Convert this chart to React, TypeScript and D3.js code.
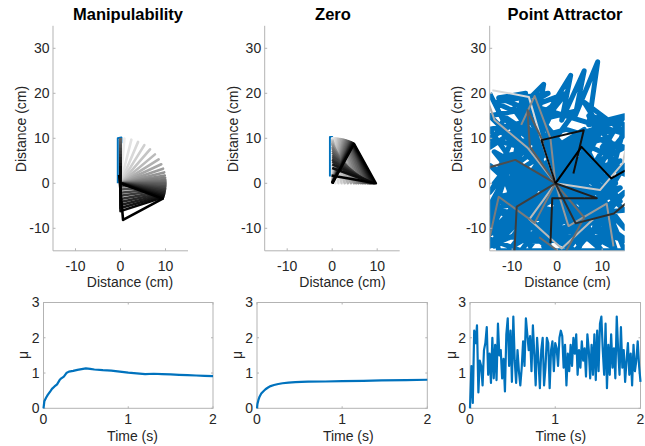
import React from 'react';
import * as d3 from 'd3';

const panelTitles = ['Manipulability', 'Zero', 'Point Attractor'];
const distTicks = [-10, 0, 10];
const heightTicks = [-10, 0, 10, 20, 30];
const muTicks = [0, 1, 2, 3];
const timeTicks = [0, 1, 2];

const LINK = 10; // cm, every link

// Manipulability: link headings (deg) of stored configurations, oldest first
const manipH1 = [85, 76, 67, 58, 49, 40, 32, 25, 19, 14, 10, 7, 4, 2, 0, -2, -4, -6, -8, -10, -12, -14, -16, -18, -20];
const manipH2 = [265, 256, 247, 238, 229, 220, 212, 205, 199, 194, 190, 187, 184, 182, 180, 182, 184, 186, 188, 190, 192, 194, 196, 198, 208];
const manipH3 = [90, 90, 90, 90, 90, 90, 90, 90, 90, 90, 90, 90, 90, 90, 90, 90, 90, 90, 90, 90, 90, 90, 90, 90, 95];
const manipStart: [number, number][] = [[-0.6, 0], [-0.6, 10], [0.2, 10.2], [0.2, 8.9]];

// Zero
const zeroH1 = [90, 88, 86, 84, 82, 80, 78, 76, 74.5, 73, 71.5, 70, 68.5, 67, 66, 65, 64, 63, 62, 61];
const zeroH2 = [-90, -88, -86, -84, -82, -80, -78, -76, -74.5, -73, -71.5, -70, -68.5, -67, -66, -65, -64, -63, -62, -61];
const zeroH3 = [90, 94, 98, 102, 106, 110, 115, 119, 122, 126, 129, 133, 137, 141, 144, 148, 151, 155, 160, 170];
const zeroStart: [number, number][] = [[-0.5, 1.5], [-0.5, 10.3], [0, 10.3], [0, 9.6]];

// Point attractor: joint positions of stored configurations, oldest first
const attractorArms: [number, number][][] = [
  [[-0.4, 0], [-3.5, 9.5], [-6.3, 19.2], [-14.4, 20.7]],
  [[-0.4, 0], [9.5, -1.5], [14.6, 4.5], [16, 12]],
  [[-0.4, 0], [-6.2, -8], [1, -14.5], [8, -8]],
  [[-0.4, 0], [-6.6, 7.9], [-13.9, 14], [-16, 20]],
  [[-0.4, 0], [2.5, -9.5], [11, -4.5], [12.5, -14]],
  [[-0.4, 0], [-1.5, 10], [-5, 19.4], [-8, 13]],
  [[-0.4, 0], [-5, -8.8], [-13, -3], [-15, -12]],
  [[-0.4, 0], [6, -7.6], [1.5, -16], [-4, -12]],
  [[-0.4, 0], [-6.1, 8.2], [-6.6, 16.3], [-3, 9]],
  [[-0.4, 0], [-9.3, 5.2], [-18.8, 2.5], [-25, 0]],
  [[-0.4, 0], [-9, -5.2], [-9.5, -15.2], [-9.5, -20]],
  [[-0.4, 0], [4.1, -8.9], [12.6, -6.7], [17, -3]],
  [[-0.4, 0], [8.8, -3.3], [-1.1, -3.3], [-1.5, -13.3]],
  [[-0.4, 0], [-3.5, 9.6], [5.9, 11.8], [3.6, 2.2]],
  [[-0.4, 0], [5.4, 8.1], [12, 1.1], [20.7, 6]],
];

// Point attractor: end-effector path
const attractorPath: [number, number][] = [
  [-15, 20], [-12, 14], [-15, 8], [-9, 12], [-13, 3], [-6, 9], [-15, -2], [-10, 6], [-15, -9], [-7, 2],
  [-14, -14], [-4, -4], [-16, -12], [-8, -15], [-3, -8], [-13, -6], [-1, -15], [-11, 0], [2, -12], [-15, 12],
  [-5, 14], [-14, 18], [-2, 20], [-9, 16], [-3, 22], [-5, 11], [3, 24], [1, 14], [6, 25], [4, 15],
  [9, 27], [7, 13], [15, 15], [10, 8], [15, 2], [8, 5], [14, -4], [5, 0], [15, -10], [9, -2],
  [13, -15], [6, -6], [16, -13], [3, -9], [10, -15], [1, -4], [8, -11], [12, 6], [3, 10], [14, 12],
  [6, 18], [11, 10], [-1, 7], [9, 3], [-3, 1], [12, -7], [0, -12], [4, 6], [-8, -10], [-4, 5],
  [-12, -12], [-6, -2], [-15, 4], [-1, -9], [-10, -14], [2, 2], [-7, 13], [5, -14], [-2, -1], [15, 8],
  [2, 12], [-9, 9], [-15, 15], [-4, 17], [-11, 10], [0, 18], [-6, 6], [7, 9], [-2, 3], [13, 0],
  [4, -3], [11, -12], [-5, -12], [7, -8], [-13, -3], [1, 0], [-11, -8], [5, 4], [-3, -14], [14, -1],
  [-8, -5], [10, 14], [-14, -10], [8, -5], [-2, 10], [12, 3], [-10, 2], [6, 12], [-6, -8], [15, -6],
  [0, 8], [-15, -14], [3, -6], [-12, 6], [9, 10], [-5, -6], [14, 5], [-9, -2], [4, 16], [-13, 12],
  [10, -9], [-1, 4], [13, -12], [-7, -13], [6, 2], [-14, 0], [2, 20], [-6, 17], [11, -3], [-3, -11],
  [15, 11], [-8, 18], [8, -13], [-12, 15], [3, 5], [-16, -6], [7, -1], [-4, 12], [12, -10], [-10, -12],
  [5, 9], [15, -15], [-13, -15], [-15, -5], [-8, 8], [-15, 10], [-10, 13], [-4, 8], [-12, 2], [-6, -14],
  [0, -6], [-9, -8], [4, -15], [15, -2], [10, -6], [15, 13], [7, 15], [12, 9], [8, 0], [13, -8],
  [9, -14], [2, -3], [-3, 15], [-13, 19], [-7, 20], [-11, -4], [-2, -13], [14, 14], [5, 11], [11, -1],
  [0, 3], [-15, -11], [-8, 3], [6, -11], [15, 4], [3, -14], [-14, 7], [-5, 2], [10, 12], [-1, -7],
  [12, -14], [-10, 17],
];

// manipulability index over time
const manipT = [0, 0.01, 0.03, 0.05, 0.08, 0.1, 0.13, 0.16, 0.19, 0.21, 0.24, 0.27, 0.3, 0.35, 0.4, 0.45, 0.5, 0.55, 0.6, 0.7, 0.8, 0.9, 1.0, 1.1, 1.2, 1.3, 1.4, 1.5, 1.6, 1.7, 1.8, 1.9, 2.0];
const manipMu = [0, 0.2, 0.3, 0.38, 0.48, 0.55, 0.62, 0.68, 0.8, 0.85, 0.9, 1.0, 1.04, 1.06, 1.09, 1.11, 1.13, 1.12, 1.1, 1.08, 1.07, 1.04, 1.01, 0.99, 0.97, 0.98, 0.97, 0.96, 0.95, 0.94, 0.93, 0.92, 0.91];
const zeroT = [0, 0.005, 0.016, 0.03, 0.05, 0.07, 0.1, 0.13, 0.16, 0.2, 0.25, 0.3, 0.37, 0.45, 0.52, 0.6, 0.8, 1.0, 1.25, 1.46, 1.75, 2.0];
const zeroMu = [0, 0.12, 0.23, 0.33, 0.42, 0.47, 0.54, 0.59, 0.63, 0.66, 0.69, 0.71, 0.73, 0.74, 0.75, 0.755, 0.76, 0.77, 0.78, 0.79, 0.8, 0.81];
const attractorMu = [
  0, 1.2, 0.15, 2.2, 1.85, 2.35, 0.45, 1.35, 1.2, 0.65, 1.65, 1.85, 2.3, 0.95, 1.55, 0.72, 2.0, 0.85, 1.8, 0.8,
  2.4, 1.5, 1.65, 0.85, 1.4, 0.48, 2.1, 2.55, 1.2, 2.2, 0.75, 2.6, 1.35, 0.72, 1.65, 1.05, 0.65, 1.15, 1.9, 1.2,
  2.55, 2.1, 1.65, 2.05, 1.05, 2.35, 1.55, 0.65, 2.0, 1.35, 0.57, 1.65, 2.0, 0.65, 1.15, 2.0, 1.85, 0.57, 1.65, 1.9,
  1.05, 1.85, 1.7, 1.2, 2.0, 2.2, 2.05, 1.15, 1.8, 0.65, 1.55, 1.05, 1.8, 1.2, 2.0, 1.55, 2.1, 0.95, 1.65, 1.15,
  1.9, 1.35, 1.7, 0.9, 2.1, 1.65, 0.85, 1.8, 0.95, 2.1, 0.8, 2.2, 1.05, 2.4, 2.6, 1.65, 0.95, 2.4, 0.57, 1.8,
  0.95, 2.1, 1.15, 1.7, 0.85, 2.6, 1.65, 0.95, 2.3, 1.15, 1.65, 0.75, 1.35, 1.85, 0.95, 1.55, 0.65, 1.8, 1.05, 1.35,
  1.9, 1.2, 0.75,
];
const attractorT = attractorMu.map((_, i) => (2 * i) / (attractorMu.length - 1));

const BLUE = '#0072bd';
const AXIS = '#b3b3b3';
const TXT = '#262626';
const FONT = '"Liberation Sans", Arial, Helvetica, sans-serif';

function chain(base: [number, number], heads: number[]): [number, number][] {
  const pts: [number, number][] = [base];
  let [x, y] = base;
  heads.forEach((h) => {
    x += LINK * Math.cos((h * Math.PI) / 180);
    y += LINK * Math.sin((h * Math.PI) / 180);
    pts.push([x, y]);
  });
  return pts;
}

const manipArms = manipH1.map((h, i) => chain([0, 0], [h, manipH2[i], manipH3[i]]));
const zeroArms = zeroH1.map((h, i) => chain([0, 0], [h, zeroH2[i], zeroH3[i]]));

const armSets = [
  { arms: manipArms, start: manipStart, light: '#ececec', width: 2.6, blueW: 2, path: null as null | [number, number][] },
  { arms: zeroArms, start: zeroStart, light: '#f2f2f2', width: 2.6, blueW: 2, path: null as null | [number, number][] },
  { arms: attractorArms, start: null as null | [number, number][], light: '#d8d8d8', width: 2, blueW: 5, path: attractorPath },
];
const muSets = [
  { t: manipT, mu: manipMu },
  { t: zeroT, mu: zeroMu },
  { t: attractorT, mu: attractorMu },
];

// layout
const topLefts = [53, 264.7, 489.7];
const topW = 135;
const titleX = [128, 333, 565];
const topXLabelX = [130, 342.5, 567.5];
const topYLabelX = [20.7, 233, 456.7];
const botLefts = [43.5, 257, 470];
const botRights = [213, 427.3, 640.5];
const botYLabelX = [23, 236.7, 450.7];
const botXLabelX = [132.5, 348.3, 560.8];

export default function App() {
  const yTop = d3.scaleLinear().domain([-15, 35]).range([250.8, 25.8]);
  const yBot = d3.scaleLinear().domain([0, 3]).range([408.3, 302.5]);

  return (
    <svg width={645} height={446} style={{ position: 'absolute', left: 0, top: 0, background: '#fff' }} fontFamily={FONT}>
      <defs>
        {topLefts.map((x0, p) => (
          <clipPath id={`clipTop${p}`} key={p}>
            <rect x={x0} y={yTop(35)} width={topW} height={yTop(-15) - yTop(35)} />
          </clipPath>
        ))}
      </defs>
      {topLefts.map((x0, p) => {
        const x = d3.scaleLinear().domain([-15, 15]).range([x0, x0 + topW]);
        const line = d3.line<[number, number]>().x((d) => x(d[0])).y((d) => yTop(d[1]));
        const set = armSets[p];
        const n = set.arms.length;
        const gray = d3.interpolateRgb(set.light, '#000000');
        return (
          <g key={`top${p}`}>
            <g clipPath={`url(#clipTop${p})`} fill="none" strokeLinejoin="round">
              {set.path && <path d={line(set.path) || ''} stroke={BLUE} strokeWidth={set.blueW} />}
              {set.start && <path d={line(set.start) || ''} stroke={BLUE} strokeWidth={set.blueW} />}
              {set.arms.map((arm, i) => (
                <path key={i} d={line(arm) || ''} stroke={gray(n === 1 ? 1 : i / (n - 1))} strokeWidth={set.width} />
              ))}
            </g>
            <line x1={x0} x2={x0} y1={yTop(35)} y2={yTop(-15)} stroke={AXIS} />
            <line x1={x0} x2={x0 + topW} y1={yTop(-15)} y2={yTop(-15)} stroke={AXIS} />
            {distTicks.map((t) => (
              <g key={`xt${t}`}>
                <line x1={x(t)} x2={x(t)} y1={yTop(-15)} y2={yTop(-15) - 2.5} stroke={AXIS} />
                <text x={x(t)} y={270.5} textAnchor="middle" fontSize={14} fill={TXT}>{t}</text>
              </g>
            ))}
            {heightTicks.map((t) => (
              <g key={`yt${t}`}>
                <line x1={x0} x2={x0 + 2.5} y1={yTop(t)} y2={yTop(t)} stroke={AXIS} />
                <text x={x0 - 3.5} y={yTop(t)} dy="0.35em" textAnchor="end" fontSize={14} fill={TXT}>{t}</text>
              </g>
            ))}
            <text x={titleX[p]} y={20} textAnchor="middle" fontSize={16.5} fontWeight="bold" fill="#000">{panelTitles[p]}</text>
            <text x={topXLabelX[p]} y={287} textAnchor="middle" fontSize={14} fill={TXT}>Distance (cm)</text>
            <text transform={`translate(${topYLabelX[p]},129) rotate(-90)`} dy="0.35em" textAnchor="middle" fontSize={14} fill={TXT}>Distance (cm)</text>
          </g>
        );
      })}
      {botLefts.map((x0, p) => {
        const x = d3.scaleLinear().domain([0, 2]).range([x0, botRights[p]]);
        const line = d3.line<number>().x((_, i) => x(muSets[p].t[i])).y((d) => yBot(d));
        return (
          <g key={`bot${p}`}>
            <rect x={x0} y={yBot(3)} width={botRights[p] - x0} height={yBot(0) - yBot(3)} fill="#fff" stroke={AXIS} />
            {timeTicks.map((t) => (
              <g key={`bx${t}`}>
                <line x1={x(t)} x2={x(t)} y1={yBot(0)} y2={yBot(0) - 2} stroke={AXIS} />
                <line x1={x(t)} x2={x(t)} y1={yBot(3)} y2={yBot(3) + 2} stroke={AXIS} />
                <text x={x(t)} y={424} textAnchor="middle" fontSize={14} fill={TXT}>{t}</text>
              </g>
            ))}
            {muTicks.map((t) => (
              <g key={`by${t}`}>
                <line x1={x0} x2={x0 + 2} y1={yBot(t)} y2={yBot(t)} stroke={AXIS} />
                <line x1={botRights[p]} x2={botRights[p] - 2} y1={yBot(t)} y2={yBot(t)} stroke={AXIS} />
                <text x={x0 - 4} y={yBot(t)} dy="0.35em" textAnchor="end" fontSize={14} fill={TXT}>{t}</text>
              </g>
            ))}
            <path d={line(muSets[p].mu) || ''} fill="none" stroke={BLUE} strokeWidth={2.2} strokeLinejoin="round" />
            <text x={botXLabelX[p]} y={441} textAnchor="middle" fontSize={14} fill={TXT}>Time (s)</text>
            <text transform={`translate(${botYLabelX[p]},355) rotate(-90)`} dy="0.35em" textAnchor="middle" fontSize={14} fill={TXT}>μ</text>
          </g>
        );
      })}
    </svg>
  );
}
